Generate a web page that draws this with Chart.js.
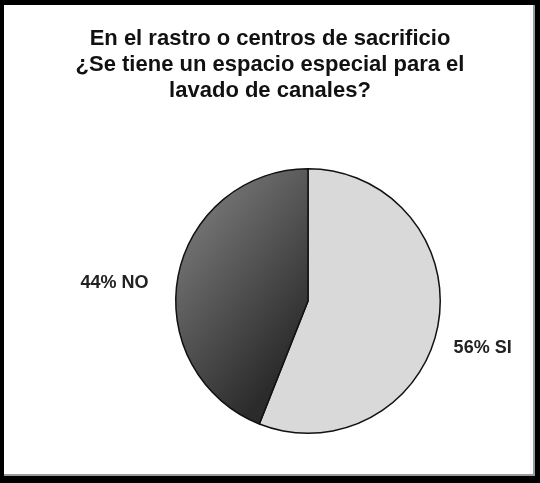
<!DOCTYPE html>
<html>
<head>
<meta charset="utf-8">
<script src="https://cdn.jsdelivr.net/npm/chart.js@4"></script>
<style>
  html, body { margin: 0; padding: 0; background: #fff; }
  #wrap { width: 540px; height: 483px; }
</style>
</head>
<body>
<div id="wrap"><canvas id="lavadoChart" width="540" height="483"></canvas></div>
<script>
var labels = ['SI', 'NO'];
var percents = [56, 44];
var titleLines = [
    'En el rastro o centros de sacrificio',
    '\u00BFSe tiene un espacio especial para el',
    'lavado de canales?'
];

// black frame with a white panel inside
var framePlugin = {
    id: 'frame',
    beforeDraw: function(chart) {
        var ctx = chart.ctx;
        ctx.save();
        ctx.fillStyle = '#000';
        ctx.fillRect(0, 0, chart.width, chart.height);
        ctx.fillStyle = '#fff';
        ctx.fillRect(4, 5, 531, 471);
        ctx.fillStyle = '#9a9a9a';
        ctx.fillRect(533, 5, 2, 471);
        ctx.fillRect(4, 474, 531, 2);
        ctx.restore();
    }
};

// title centred on the whole panel, not on the pie
var panelTitle = {
    id: 'panelTitle',
    afterDraw: function(chart) {
        var ctx = chart.ctx;
        ctx.save();
        ctx.font = 'bold 22px "Liberation Sans", Arial, sans-serif';
        ctx.fillStyle = '#111';
        ctx.textAlign = 'center';
        ctx.textBaseline = 'middle';
        titleLines.forEach(function(line, i) {
            ctx.fillText(line, 270, 39 + i * 26);
        });
        ctx.restore();
    }
};

// "44% NO" style labels outside each slice
var sliceLabels = {
    id: 'sliceLabels',
    afterDraw: function(chart) {
        var ctx = chart.ctx;
        var meta = chart.getDatasetMeta(0);
        ctx.save();
        ctx.font = 'bold 18px "Liberation Sans", Arial, sans-serif';
        ctx.fillStyle = '#222';
        ctx.textBaseline = 'middle';
        meta.data.forEach(function(arc, i) {
            var p = arc.getProps(['x', 'y', 'startAngle', 'endAngle', 'outerRadius'], true);
            var mid = (p.startAngle + p.endAngle) / 2;
            var left = Math.cos(mid) < 0;
            var r = p.outerRadius + (left ? 30 : 16);
            var x = p.x + Math.cos(mid) * r;
            var y = p.y + Math.sin(mid) * r + (left ? 12 : 19);
            ctx.textAlign = left ? 'right' : 'left';
            ctx.fillText(percents[i] + '% ' + labels[i], x, y);
        });
        ctx.restore();
    }
};

function darkFill(context) {
    var area = context.chart.chartArea;
    if (!area) return '#444';
    var ctx = context.chart.ctx;
    var cx = (area.left + area.right) / 2;
    var cy = (area.top + area.bottom) / 2;
    var r = Math.min(area.right - area.left, area.bottom - area.top) / 2;
    var g = ctx.createLinearGradient(cx - r, cy - r * 0.5, cx, cy + r * 0.3);
    g.addColorStop(0, '#767676');
    g.addColorStop(1, '#2b2b2b');
    return g;
}

new Chart(document.getElementById('lavadoChart').getContext('2d'), {
    type: 'pie',
    data: {
        labels: labels,
        datasets: [{
            data: percents,
            backgroundColor: function(context) {
                return context.dataIndex === 0 ? '#d9d9d9' : darkFill(context);
            },
            borderColor: '#111',
            borderWidth: 1.5
        }]
    },
    options: {
        responsive: false,
        animation: false,
        layout: {
            padding: { left: 174, right: 98, top: 168, bottom: 49 }
        },
        plugins: {
            legend: { display: false },
            tooltip: { enabled: false },
            title: { display: false }
        }
    },
    plugins: [framePlugin, panelTitle, sliceLabels]
});
</script>
</body>
</html>
